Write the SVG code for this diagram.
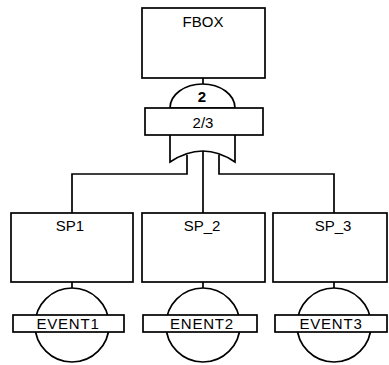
<svg xmlns="http://www.w3.org/2000/svg" width="389" height="365" viewBox="0 0 389 365">
<style>
.s{fill:#fff;stroke:#000;stroke-width:1.7}
.c{fill:none;stroke:#000;stroke-width:1.7}
.t{font-family:"Liberation Sans",Arial,sans-serif;font-size:15px;fill:#000;text-anchor:middle}
.e{letter-spacing:0.8px}
</style>
<rect width="389" height="365" fill="#fff"/>
<g id="connectors">
<line class="c" x1="203" y1="78" x2="203" y2="85"/>
<line class="c" x1="203" y1="151" x2="203" y2="213"/>
<polyline class="c" points="187,155 187,174 72,174 72,213"/>
<polyline class="c" points="219,155 219,174 334,174 334,213"/>
<line class="c" x1="72" y1="282" x2="72" y2="289"/>
<line class="c" x1="203" y1="282" x2="203" y2="289"/>
<line class="c" x1="334" y1="282" x2="334" y2="289"/>
</g>
<g id="FBOX">
<rect class="s" x="142" y="8" width="123" height="70"/>
<text class="t" x="203" y="27">FBOX</text>
</g>
<g id="gate">
<path class="s" d="M170,108 A32.5,24 0 0 1 235,108 Z"/>
<text class="t" x="202" y="102" style="font-weight:bold">2</text>
<rect class="s" x="145" y="108" width="118" height="27"/>
<text class="t" x="203" y="128">2/3</text>
<path class="c" d="M170,135 V162 Q203,140 235,162 V135"/>
</g>
<g id="SP1">
<rect class="s" x="11" y="213" width="122" height="69"/>
<text class="t" x="70" y="231">SP1</text>
</g>
<g id="SP_2">
<rect class="s" x="142" y="213" width="123" height="69"/>
<text class="t" x="202" y="231">SP_2</text>
</g>
<g id="SP_3">
<rect class="s" x="273" y="213" width="114" height="69"/>
<text class="t" x="333" y="231">SP_3</text>
</g>
<g id="EVENT1">
<circle class="s" cx="72" cy="325" r="37"/>
<rect class="s" x="13" y="315" width="111" height="17"/>
<text class="t e" x="68" y="329">EVENT1</text>
</g>
<g id="ENENT2">
<circle class="s" cx="203" cy="325" r="37"/>
<rect class="s" x="143" y="315" width="114" height="17"/>
<text class="t e" x="202" y="329">ENENT2</text>
</g>
<g id="EVENT3">
<circle class="s" cx="334" cy="325" r="37"/>
<rect class="s" x="275" y="315" width="112" height="17"/>
<text class="t e" x="331" y="329">EVENT3</text>
</g>
</svg>
